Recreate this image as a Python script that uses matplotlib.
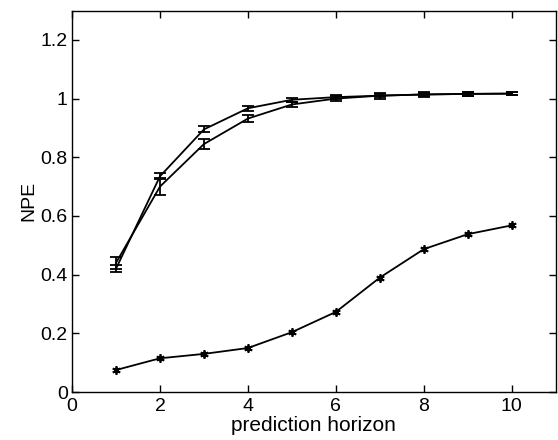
import numpy as np
import matplotlib
matplotlib.use('Agg')
import matplotlib.pyplot as plt

plt.rcParams['font.family'] = ['Liberation Sans', 'DejaVu Sans']

horizon = [1, 2, 3, 4, 5, 6, 7, 8, 9, 10]

# upper curve with error bars
npe_a = [0.420, 0.735, 0.895, 0.967, 0.996, 1.005, 1.010, 1.014, 1.016, 1.017]
err_a = [0.012, 0.010, 0.010, 0.008, 0.007, 0.006, 0.006, 0.006, 0.006, 0.006]

# lower curve with error bars
npe_b = [0.440, 0.700, 0.845, 0.932, 0.980, 1.000, 1.010, 1.014, 1.016, 1.017]
err_b = [0.020, 0.030, 0.018, 0.013, 0.010, 0.008, 0.010, 0.010, 0.006, 0.006]

# bottom curve, star markers
npe_c = [0.075, 0.115, 0.130, 0.150, 0.204, 0.273, 0.390, 0.487, 0.538, 0.568]

fig = plt.figure(figsize=(5.58, 4.4), dpi=100)
ax = fig.add_axes([0.129, 0.109, 0.867, 0.867])

ax.errorbar(horizon, npe_a, yerr=err_a, color='black', lw=1.3,
            capsize=4, elinewidth=1.3, capthick=1.3)
ax.errorbar(horizon, npe_b, yerr=err_b, color='black', lw=1.3,
            capsize=4, elinewidth=1.3, capthick=1.3)
ax.plot(horizon, npe_c, color='black', lw=1.3, marker=(6, 2, 0),
        markersize=6, markeredgewidth=1.3)

ax.set_xlim(0, 11)
ax.set_ylim(0, 1.3)
ax.set_xticks([0, 2, 4, 6, 8, 10])
ax.set_yticks([0, 0.2, 0.4, 0.6, 0.8, 1, 1.2])
ax.set_yticklabels(['0', '0.2', '0.4', '0.6', '0.8', '1', '1.2'])
ax.tick_params(direction='in', length=5, width=1, top=True, right=True,
               labelsize=14)
ax.tick_params(axis='x', pad=4)
ax.tick_params(axis='y', pad=3)
for s in ax.spines.values():
    s.set_linewidth(1)

ax.set_xlabel('prediction horizon', fontsize=15, labelpad=1)
ax.set_ylabel('NPE', fontsize=14, labelpad=2)

fig.savefig('out.png', dpi=100)
